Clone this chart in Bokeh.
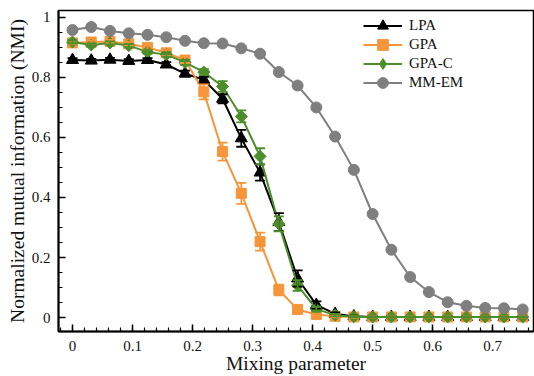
import numpy as np
from bokeh.plotting import figure
from bokeh.models import (ColumnDataSource, Whisker, TeeHead, FixedTicker,
                          Legend, LegendItem, Range1d)
from bokeh.embed import file_html
from bokeh.resources import INLINE

# ---------------- data ----------------
mixing = [0.0, 0.03125, 0.0625, 0.09375, 0.125, 0.15625, 0.1875, 0.21875,
          0.25, 0.28125, 0.3125, 0.34375, 0.375, 0.40625, 0.4375, 0.46875,
          0.5, 0.53125, 0.5625, 0.59375, 0.625, 0.65625, 0.6875, 0.71875, 0.75]

lpa = [0.858, 0.856, 0.859, 0.855, 0.858, 0.843, 0.813, 0.792, 0.729, 0.597,
       0.483, 0.318, 0.130, 0.042, 0.012, 0.004, 0.002, 0.002, 0.002, 0.002,
       0.002, 0.002, 0.002, 0.002, 0.002]
lpa_err = [0.006, 0.006, 0.006, 0.006, 0.006, 0.008, 0.010, 0.010, 0.015, 0.028,
           0.027, 0.030, 0.027, 0.012, 0.005, 0.002, 0.002, 0.002, 0.002, 0.002,
           0.002, 0.002, 0.002, 0.002, 0.002]

gpa = [0.915, 0.918, 0.920, 0.912, 0.900, 0.882, 0.858, 0.752, 0.553, 0.414,
       0.253, 0.092, 0.027, 0.010, 0.004, 0.002, 0.002, 0.002, 0.002, 0.002,
       0.002, 0.002, 0.002, 0.002, 0.002]
gpa_err = [0.005, 0.005, 0.005, 0.006, 0.008, 0.010, 0.010, 0.025, 0.030, 0.035,
           0.030, 0.018, 0.008, 0.004, 0.003, 0.003, 0.003, 0.003, 0.003, 0.003,
           0.003, 0.003, 0.003, 0.003, 0.003]

gpac = [0.918, 0.908, 0.915, 0.906, 0.885, 0.876, 0.850, 0.818, 0.770, 0.670,
        0.537, 0.312, 0.107, 0.028, 0.008, 0.003, 0.002, 0.002, 0.002, 0.002,
        0.002, 0.002, 0.002, 0.002, 0.002]
gpac_err = [0.005, 0.005, 0.005, 0.005, 0.006, 0.007, 0.008, 0.010, 0.018, 0.020,
            0.027, 0.025, 0.018, 0.008, 0.004, 0.002, 0.002, 0.002, 0.002, 0.002,
            0.002, 0.002, 0.002, 0.002, 0.002]

mmem = [0.958, 0.968, 0.955, 0.947, 0.942, 0.934, 0.922, 0.914, 0.913, 0.897,
        0.879, 0.818, 0.773, 0.700, 0.603, 0.492, 0.345, 0.226, 0.135, 0.085,
        0.051, 0.039, 0.032, 0.031, 0.027]

x_ticks = [0.0, 0.1, 0.2, 0.3, 0.4, 0.5, 0.6, 0.7]
x_tick_labels = ["0", "0.1", "0.2", "0.3", "0.4", "0.5", "0.6", "0.7"]
y_ticks = [0.0, 0.2, 0.4, 0.6, 0.8, 1.0]
y_tick_labels = ["0", "0.2", "0.4", "0.6", "0.8", "1"]

# name, values, errors, colour, plot marker, size, angle, legend marker
series = [
    ("LPA", lpa, lpa_err, "#000000", "triangle", 12, 0.0, "triangle"),
    ("GPA", gpa, gpa_err, "#F7953B", "square", 10, 0.0, "square"),
    ("GPA-C", gpac, gpac_err, "#4B8E2A", "square", 8.5, np.pi / 4, "diamond"),
    ("MM-EM", mmem, None, "#7F7F7F", "circle", 11, 0.0, "circle"),
]

FONT = "Liberation Serif"
FRAME_TOP, FRAME_H = 10, 322

p = figure(width=534, height=376, output_backend="svg", toolbar_location=None,
           x_range=Range1d(-0.0233, 0.768), y_range=Range1d(-0.0465, 1.023),
           min_border_left=58, min_border_right=1, min_border_top=FRAME_TOP,
           min_border_bottom=44)
p.xgrid.visible = False
p.ygrid.visible = False
p.outline_line_color = "black"
p.outline_line_width = 1.5
p.background_fill_color = "white"
p.border_fill_color = "white"

legend_rows = []
for name, vals, err, color, marker, size, ang, lmarker in series:
    src = ColumnDataSource(dict(x=mixing, y=vals))
    lr = p.line("x", "y", source=src, line_color=color, line_width=2)
    if err is not None:
        esrc = ColumnDataSource(dict(
            x=mixing,
            upper=[v + e for v, e in zip(vals, err)],
            lower=[v - e for v, e in zip(vals, err)]))
        w = Whisker(source=esrc, base="x", upper="upper", lower="lower",
                    line_color=color, line_width=1.8, level="glyph",
                    upper_head=TeeHead(size=10, line_color=color, line_width=1.8),
                    lower_head=TeeHead(size=10, line_color=color, line_width=1.8))
        p.add_layout(w)
    sr = p.scatter("x", "y", source=src, marker=marker, size=size, angle=ang,
                   fill_color=color, line_color=color)
    if lmarker != marker:
        # zero-size copy, only used for the legend swatch shape
        sr = p.scatter("x", "y", source=src, marker=lmarker, size=0,
                       fill_color=color, line_color=color)
    legend_rows.append(LegendItem(label=name, renderers=[lr, sr]))

# one single-row legend per entry so that the swatch markers are large
row_centers = [26, 45, 64, 83]
for item, c in zip(legend_rows, row_centers):
    gh = 27
    vy = (FRAME_TOP + FRAME_H) - (c + gh / 2)
    lg = Legend(items=[item], location=(305, vy), padding=0, spacing=0,
                margin=0, label_height=19, glyph_height=gh, glyph_width=39,
                label_standoff=7, border_line_color=None,
                background_fill_alpha=0, label_text_font=FONT,
                label_text_font_size="15px", label_text_color="#111111")
    p.add_layout(lg)

# axes
for ax, ticks, labels, minor in (
        (p.xaxis[0], x_ticks, x_tick_labels, np.round(np.arange(-0.02, 0.78, 0.02), 3).tolist()),
        (p.yaxis[0], y_ticks, y_tick_labels, np.round(np.arange(-0.05, 1.03, 0.05), 3).tolist())):
    ax.ticker = FixedTicker(ticks=ticks, minor_ticks=minor)
    ax.major_label_overrides = {t: l for t, l in zip(ticks, labels)}
    ax.major_tick_in = 7
    ax.major_tick_out = 0
    ax.minor_tick_in = 4
    ax.minor_tick_out = 0
    ax.axis_line_width = 2
    ax.major_tick_line_width = 1.5
    ax.minor_tick_line_width = 1.2
    ax.major_label_text_font = FONT
    ax.major_label_text_font_size = "15px"
    ax.major_label_text_color = "#111111"
    ax.axis_label_text_font = FONT
    ax.axis_label_text_font_size = "19.5px"
    ax.axis_label_text_font_style = "normal"
    ax.axis_label_text_color = "#111111"

p.xaxis.axis_label = "Mixing parameter"
p.yaxis.axis_label = "Normalized mutual information (NMI)"
p.xaxis.major_label_standoff = 9
p.xaxis.axis_label_standoff = -1
p.yaxis.major_label_standoff = 8
p.yaxis.axis_label_standoff = 1

open("out.html", "w").write(file_html(p, INLINE))
